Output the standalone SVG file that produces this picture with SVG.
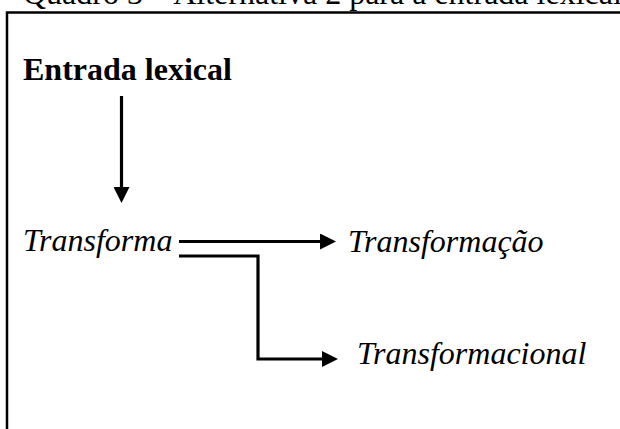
<svg xmlns="http://www.w3.org/2000/svg" width="620" height="429" viewBox="0 0 620 429">
  <style>
    .title { font-family: "Liberation Serif", "Times New Roman", serif; font-size: 32px; fill: #000; }
    .bold { font-family: "Liberation Serif", "Times New Roman", serif; font-size: 32px; font-weight: bold; fill: #000; }
    .it { font-family: "Liberation Serif", "Times New Roman", serif; font-size: 32px; font-style: italic; fill: #000; }
    .frame { fill: none; stroke: #000; stroke-width: 2.5; }
    .link { fill: none; stroke: #000; stroke-width: 3.2; stroke-linejoin: miter; }
  </style>
  <defs>
    <marker id="head" viewBox="0 0 16 16" refX="1" refY="8" markerWidth="16" markerHeight="16" markerUnits="userSpaceOnUse" orient="auto">
      <path d="M0,0 L16,8 L0,16 z" fill="#000"/>
    </marker>
  </defs>

  <rect width="620" height="429" fill="#fff"/>

  <!-- caption -->
  <text class="title" x="23" y="4">Quadro 3 – Alternativa 2 para a entrada lexical</text>

  <!-- frame, open to the right and bottom -->
  <path class="frame" d="M7,440 V12.5 H630"/>

  <g id="entrada">
    <text class="bold" x="23" y="80">Entrada lexical</text>
  </g>
  <g id="transforma">
    <text class="it" x="23" y="251">Transforma</text>
  </g>
  <g id="transformacao">
    <text class="it" x="348" y="252">Transformação</text>
  </g>
  <g id="transformacional">
    <text class="it" x="357" y="364">Transformacional</text>
  </g>

  <g id="connectors">
    <path class="link" d="M121.5,96 V188" marker-end="url(#head)"/>
    <path class="link" d="M179,241.5 H321" marker-end="url(#head)"/>
    <path class="link" d="M179,256 H258 V359 H323" marker-end="url(#head)"/>
  </g>
</svg>
